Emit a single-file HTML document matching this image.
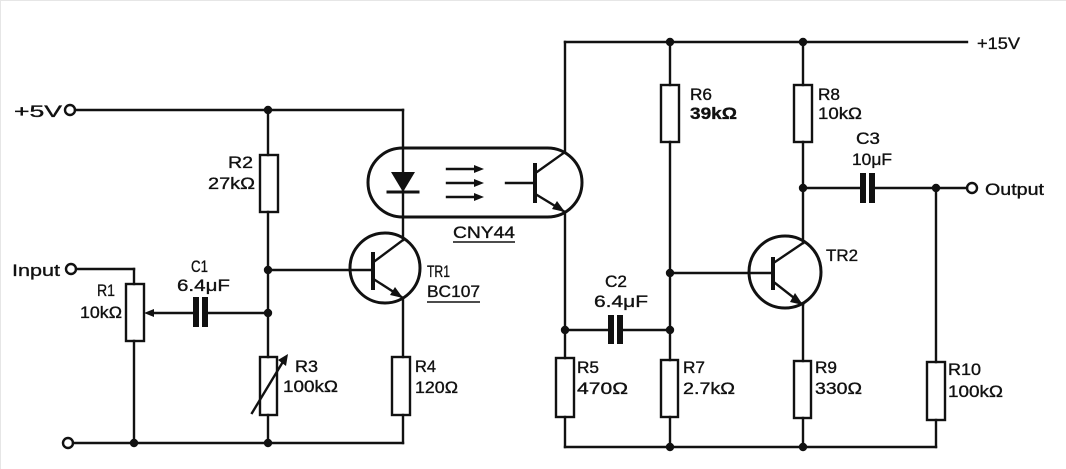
<!DOCTYPE html>
<html><head><meta charset="utf-8"><style>
html,body{margin:0;padding:0;background:#fff;}
svg{display:block;}
text{font-family:"Liberation Sans",sans-serif;font-size:17px;fill:#111;stroke:#111;stroke-width:0.35;}
</style></head><body>
<svg width="1066" height="469" viewBox="0 0 1066 469" xmlns="http://www.w3.org/2000/svg">
<rect x="0" y="0" width="1066" height="469" fill="#fff"/>
<line x1="0.5" y1="0" x2="0.5" y2="469" stroke="#e6e6e6" stroke-width="1"/>
<line x1="0" y1="0.5" x2="1066" y2="0.5" stroke="#e6e6e6" stroke-width="1"/>
<g stroke="#111" stroke-width="2.4" fill="none" stroke-linecap="square">
<!-- LEFT CIRCUIT -->
<line x1="75" y1="110" x2="403" y2="110"/>
<line x1="403" y1="110" x2="403" y2="240"/>
<line x1="268" y1="110" x2="268" y2="155"/>
<rect x="260" y="155" width="18" height="57"/>
<line x1="268" y1="212" x2="268" y2="357"/>
<rect x="260" y="357" width="17" height="58"/>
<line x1="268" y1="415" x2="268" y2="443"/>
<line x1="73" y1="443" x2="403" y2="443"/>
<line x1="76" y1="269" x2="134" y2="269"/>
<line x1="134" y1="269" x2="134" y2="284"/>
<rect x="126" y="284" width="18" height="57"/>
<line x1="134" y1="341" x2="134" y2="443"/>
<line x1="150" y1="313" x2="193" y2="313"/>
<line x1="208" y1="313" x2="268" y2="313"/>
<line x1="268" y1="270" x2="373" y2="270"/>
<line x1="252" y1="413" x2="284" y2="360"/>
<!-- TR1 -->
<circle cx="385" cy="268" r="35" stroke-width="3"/>
<line x1="373" y1="252" x2="373" y2="290" stroke-width="4" stroke-linecap="butt"/>
<line x1="375" y1="261" x2="403" y2="240"/>
<line x1="375" y1="280" x2="403" y2="298"/>
<line x1="403" y1="298" x2="403" y2="357"/>
<rect x="392" y="357" width="18" height="58"/>
<line x1="403" y1="415" x2="403" y2="443"/>
<!-- OPTO -->
<rect x="368" y="148" width="214" height="69" rx="34.5" ry="34.5" stroke-width="3"/>
<line x1="388" y1="192" x2="418" y2="192" stroke-width="3"/>
<line x1="447" y1="169" x2="476" y2="169"/>
<line x1="447" y1="183" x2="476" y2="183"/>
<line x1="447" y1="197" x2="476" y2="197"/>
<line x1="506" y1="183" x2="535" y2="183"/>
<line x1="535" y1="163" x2="535" y2="203" stroke-width="4" stroke-linecap="butt"/>
<line x1="537" y1="172" x2="565" y2="152"/>
<line x1="537" y1="195" x2="565" y2="212"/>
<!-- RIGHT CIRCUIT -->
<line x1="565" y1="42" x2="967" y2="42"/>
<line x1="565" y1="42" x2="565" y2="152"/>
<line x1="565" y1="212" x2="565" y2="358"/>
<rect x="556" y="358" width="18" height="59"/>
<line x1="565" y1="417" x2="565" y2="447"/>
<line x1="565" y1="447" x2="936" y2="447"/>
<line x1="565" y1="330" x2="608" y2="330"/>
<line x1="623" y1="330" x2="670" y2="330"/>
<line x1="670" y1="42" x2="670" y2="85"/>
<rect x="661" y="85" width="18" height="57"/>
<line x1="670" y1="142" x2="670" y2="360"/>
<rect x="661" y="360" width="17" height="57"/>
<line x1="670" y1="417" x2="670" y2="447"/>
<line x1="670" y1="273" x2="773" y2="273"/>
<line x1="803" y1="42" x2="803" y2="85"/>
<rect x="794" y="85" width="18" height="57"/>
<line x1="803" y1="142" x2="803" y2="243"/>
<circle cx="785" cy="272" r="36" stroke-width="3"/>
<line x1="773" y1="257" x2="773" y2="290" stroke-width="4" stroke-linecap="butt"/>
<line x1="775" y1="262" x2="803" y2="243"/>
<line x1="775" y1="283" x2="803" y2="305"/>
<line x1="803" y1="305" x2="803" y2="361"/>
<rect x="794" y="361" width="17" height="57"/>
<line x1="803" y1="418" x2="803" y2="447"/>
<line x1="803" y1="188" x2="860" y2="188"/>
<line x1="875" y1="188" x2="967" y2="188"/>
<line x1="936" y1="188" x2="936" y2="362"/>
<rect x="927" y="362" width="18" height="58"/>
<line x1="936" y1="420" x2="936" y2="447"/>
<!-- terminals -->
<circle cx="70" cy="110" r="5"/>
<circle cx="71" cy="269" r="5"/>
<circle cx="68" cy="443" r="5"/>
<circle cx="972" cy="188" r="5"/>
</g>
<g fill="#111" stroke="none">
<!-- capacitor plates -->
<rect x="193" y="297" width="6" height="30"/>
<rect x="202" y="297" width="6" height="30"/>
<rect x="608" y="315" width="6" height="29"/>
<rect x="617" y="315" width="6" height="29"/>
<rect x="860" y="173" width="6" height="30"/>
<rect x="869" y="173" width="6" height="30"/>
<!-- diode -->
<polygon points="391,172 415,172 403,192"/>
<!-- arrowheads -->
<polygon points="144,313 154,309 154,317"/>
<polygon points="288,354 278,360 286,366"/>
<polygon points="484,169 474,165 474,173"/>
<polygon points="484,183 474,179 474,187"/>
<polygon points="484,197 474,193 474,201"/>
<polygon points="565,212 552,209 557,201"/>
<polygon points="403,298 390,295 395,287"/>
<polygon points="803,305 790,302 795,293"/>
<!-- junction dots -->
<circle cx="268" cy="110" r="4.2"/>
<circle cx="268" cy="270" r="4.2"/>
<circle cx="268" cy="313" r="4.2"/>
<circle cx="268" cy="443" r="4.2"/>
<circle cx="134" cy="443" r="4.2"/>
<circle cx="670" cy="42" r="4.2"/>
<circle cx="803" cy="42" r="4.2"/>
<circle cx="670" cy="273" r="4.2"/>
<circle cx="670" cy="330" r="4.2"/>
<circle cx="565" cy="330" r="4.2"/>
<circle cx="670" cy="447" r="4.2"/>
<circle cx="803" cy="447" r="4.2"/>
<circle cx="803" cy="188" r="4.2"/>
<circle cx="936" cy="188" r="4.2"/>
</g>
<!-- underlines -->
<g stroke="#111" stroke-width="1.5">
<line x1="427" y1="302" x2="480" y2="302"/>
<line x1="453" y1="242" x2="515" y2="242"/>
</g>
<!-- labels -->
<text x="14" y="117" textLength="48" lengthAdjust="spacingAndGlyphs">+5V</text>
<text x="12" y="276" textLength="48" lengthAdjust="spacingAndGlyphs">Input</text>
<text x="97" y="296" textLength="18" lengthAdjust="spacingAndGlyphs">R1</text>
<text x="80" y="318" textLength="42" lengthAdjust="spacingAndGlyphs">10kΩ</text>
<text x="191" y="272" textLength="17" lengthAdjust="spacingAndGlyphs">C1</text>
<text x="177" y="291" textLength="53" lengthAdjust="spacingAndGlyphs">6.4μF</text>
<text x="228" y="168" textLength="25" lengthAdjust="spacingAndGlyphs">R2</text>
<text x="208" y="189" textLength="47" lengthAdjust="spacingAndGlyphs">27kΩ</text>
<text x="295" y="372" textLength="23" lengthAdjust="spacingAndGlyphs">R3</text>
<text x="283" y="392" textLength="55" lengthAdjust="spacingAndGlyphs">100kΩ</text>
<text x="427" y="277" textLength="23" lengthAdjust="spacingAndGlyphs">TR1</text>
<text x="427" y="297" textLength="53" lengthAdjust="spacingAndGlyphs">BC107</text>
<text x="453" y="238" textLength="62" lengthAdjust="spacingAndGlyphs">CNY44</text>
<text x="415" y="372" textLength="21" lengthAdjust="spacingAndGlyphs">R4</text>
<text x="415" y="393" textLength="43" lengthAdjust="spacingAndGlyphs">120Ω</text>
<text x="977" y="49" textLength="43" lengthAdjust="spacingAndGlyphs">+15V</text>
<text x="985" y="195" textLength="59" lengthAdjust="spacingAndGlyphs">Output</text>
<text x="690" y="100" textLength="22" lengthAdjust="spacingAndGlyphs">R6</text>
<text x="690" y="119" textLength="47" lengthAdjust="spacingAndGlyphs" font-weight="bold">39kΩ</text>
<text x="818" y="100" textLength="22" lengthAdjust="spacingAndGlyphs">R8</text>
<text x="818" y="119" textLength="44" lengthAdjust="spacingAndGlyphs">10kΩ</text>
<text x="856" y="144" textLength="24" lengthAdjust="spacingAndGlyphs">C3</text>
<text x="852" y="165" textLength="40" lengthAdjust="spacingAndGlyphs">10μF</text>
<text x="826" y="261" textLength="32" lengthAdjust="spacingAndGlyphs">TR2</text>
<text x="605" y="287" textLength="22" lengthAdjust="spacingAndGlyphs">C2</text>
<text x="594" y="307" textLength="54" lengthAdjust="spacingAndGlyphs">6.4μF</text>
<text x="577" y="373" textLength="22" lengthAdjust="spacingAndGlyphs">R5</text>
<text x="577" y="394" textLength="51" lengthAdjust="spacingAndGlyphs">470Ω</text>
<text x="683" y="373" textLength="22" lengthAdjust="spacingAndGlyphs">R7</text>
<text x="683" y="394" textLength="52" lengthAdjust="spacingAndGlyphs">2.7kΩ</text>
<text x="815" y="373" textLength="22" lengthAdjust="spacingAndGlyphs">R9</text>
<text x="815" y="394" textLength="47" lengthAdjust="spacingAndGlyphs">330Ω</text>
<text x="948" y="375" textLength="33" lengthAdjust="spacingAndGlyphs">R10</text>
<text x="948" y="397" textLength="55" lengthAdjust="spacingAndGlyphs">100kΩ</text>
</svg>
</body></html>
